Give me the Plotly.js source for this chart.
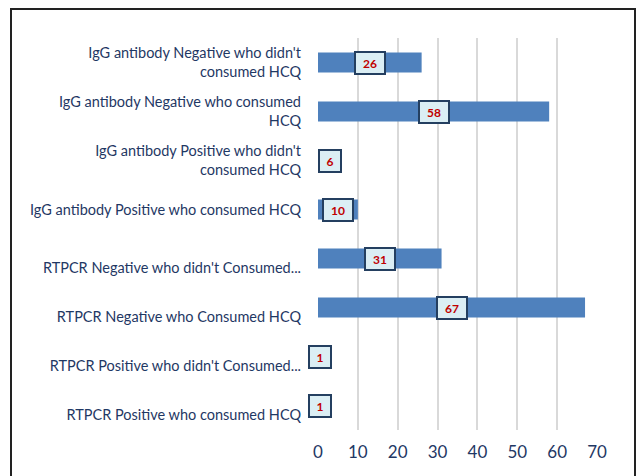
<!DOCTYPE html>
<html><head><meta charset="utf-8">
<script src="https://cdn.plot.ly/plotly-3.0.1.min.js"></script>
<style>
body{margin:0;padding:0;background:#fff;}
#wrap{position:relative;width:639px;height:476px;overflow:hidden;}
#frame{position:absolute;left:10px;top:8px;width:626px;height:480px;border:2px solid #222;box-sizing:border-box;pointer-events:none;}
#chart{position:absolute;left:0;top:0;width:639px;height:476px;}
</style></head>
<body>
<div id="wrap"><div id="chart"></div><div id="frame"></div></div>
<script>
const categories = [
  "IgG antibody Negative who didn't<br>consumed HCQ",
  "IgG antibody Negative who consumed<br>HCQ",
  "IgG antibody Positive who didn't<br>consumed HCQ",
  "IgG antibody Positive who consumed HCQ",
  "RTPCR Negative who didn't Consumed...",
  "RTPCR Negative who Consumed HCQ",
  "RTPCR Positive who didn't Consumed...",
  "RTPCR Positive who consumed HCQ"
];
const values = [26, 58, 6, 10, 31, 67, 1, 1];
const xTicks = [0, 10, 20, 30, 40, 50, 60, 70];

const navy = '#1f3864';
const font = 'Lato, "Open Sans", sans-serif';

// RTPCR labels sit slightly below their bars in the original; an empty leading line reproduces that
const tickText = categories.map(c => c.startsWith('RTPCR') ? ' <br>' + c : c);

const annotations = categories.map((c, i) => ({
  x: values[i] / 2, y: c, xref: 'x', yref: 'y',
  text: '<b>' + values[i] + '</b>', showarrow: false,
  font: {color: '#c00000', size: 12, family: 'Lato, Arial, sans-serif'},
  bgcolor: '#dbeef4', bordercolor: '#243f60', borderwidth: 2, borderpad: 3,
  width: values[i] >= 10 ? 22 : 14, height: 14
}));

Plotly.newPlot('chart', [{
  type: 'bar', orientation: 'h', x: values, y: categories,
  marker: {color: '#4f81bd', line: {width: 0}},
  hoverinfo: 'none'
}], {
  width: 639, height: 476,
  margin: {l: 318, r: 42, t: 38, b: 46},
  paper_bgcolor: '#fff', plot_bgcolor: '#fff',
  bargap: 0.59,
  showlegend: false,
  font: {family: font, color: navy},
  xaxis: {range: [0, 70], tickvals: xTicks, ticktext: xTicks.map(String),
    showgrid: true, gridcolor: '#d9d9d9', gridwidth: 2, zeroline: false,
    showline: false, ticks: '', ticklabelstandoff: 10,
    tickfont: {size: 17, color: navy, family: font}, fixedrange: true},
  yaxis: {type: 'category', autorange: 'reversed', showgrid: false, zeroline: false,
    showline: false, ticks: '', ticklabelstandoff: 16,
    tickvals: categories, ticktext: tickText,
    tickfont: {size: 14.5, color: navy, family: font}, fixedrange: true},
  annotations: annotations
}, {displayModeBar: false, staticPlot: true});
</script>
</body></html>
